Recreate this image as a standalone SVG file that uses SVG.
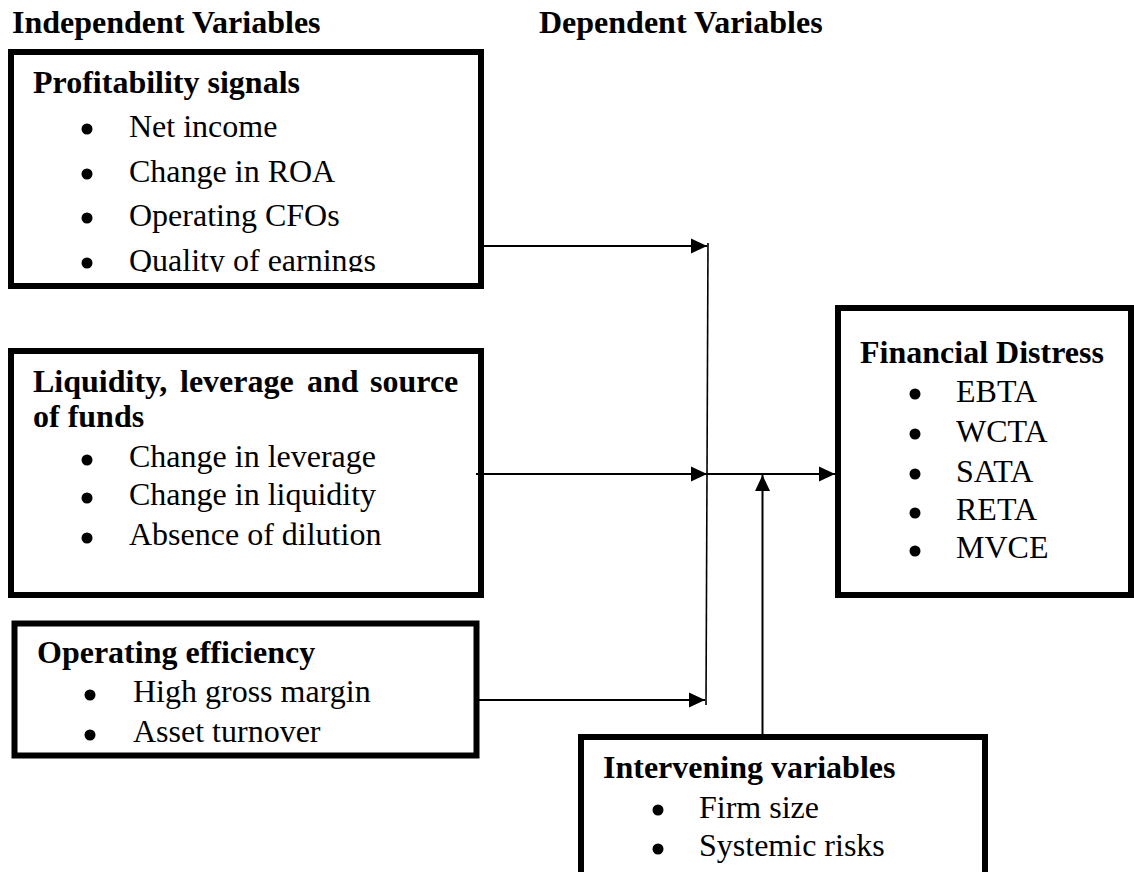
<svg xmlns="http://www.w3.org/2000/svg" width="1134" height="872" viewBox="0 0 1134 872">
<style>
text{font-family:"Liberation Serif","Times New Roman",serif;font-size:32px;fill:#000}
.b{font-weight:bold}
.box{fill:#fff;stroke:#000;stroke-width:6}
.ln{stroke:#000;stroke-width:2;fill:none}
.dot{fill:#000}
</style>
<defs>
<marker id="ah" markerUnits="userSpaceOnUse" markerWidth="16" markerHeight="16" viewBox="0 0 16 16" refX="16" refY="8" orient="auto">
<path d="M0,0.5 L16,8 L0,15.5 Z" fill="#000"/>
</marker>
<clipPath id="c1"><rect x="0" y="0" width="1134" height="272"/></clipPath>
</defs>
<rect width="1134" height="872" fill="#fff"/>
<g id="headers">
<text class="b" x="12" y="33">Independent Variables</text>
<text class="b" x="539" y="33">Dependent Variables</text>
</g>
<g id="profitability">
<rect class="box" x="11" y="52" width="470" height="234"/>
<text class="b" x="33" y="93">Profitability signals</text>
<circle class="dot" cx="87" cy="129" r="5.5"/><text x="129" y="137">Net income</text>
<circle class="dot" cx="87" cy="174" r="5.5"/><text x="129" y="182">Change in ROA</text>
<circle class="dot" cx="87" cy="218" r="5.5"/><text x="129" y="226">Operating CFOs</text>
<g clip-path="url(#c1)"><circle class="dot" cx="87" cy="263" r="5.5"/><text x="129" y="271">Quality of earnings</text></g>
</g>
<g id="liquidity">
<rect class="box" x="11" y="351" width="470" height="244"/>
<text class="b" x="33" y="392">Liquidity,</text>
<text class="b" x="180" y="392">leverage</text>
<text class="b" x="307" y="392">and</text>
<text class="b" x="370" y="392">source</text>
<text class="b" x="33" y="427">of funds</text>
<circle class="dot" cx="87" cy="460" r="5.5"/><text x="129" y="467">Change in leverage</text>
<circle class="dot" cx="87" cy="498" r="5.5"/><text x="129" y="505">Change in liquidity</text>
<circle class="dot" cx="87" cy="538" r="5.5"/><text x="129" y="545">Absence of dilution</text>
</g>
<g id="operating">
<rect class="box" x="14.5" y="623.5" width="462" height="132"/>
<text class="b" x="37" y="663">Operating efficiency</text>
<circle class="dot" cx="90" cy="695" r="5.5"/><text x="133" y="702">High gross margin</text>
<circle class="dot" cx="90" cy="735" r="5.5"/><text x="133" y="742">Asset turnover</text>
</g>
<g id="distress">
<rect class="box" x="838" y="308" width="293" height="287"/>
<text class="b" x="860" y="363">Financial Distress</text>
<circle class="dot" cx="915" cy="394" r="5.5"/><text x="956" y="402">EBTA</text>
<circle class="dot" cx="915" cy="434" r="5.5"/><text x="956" y="442">WCTA</text>
<circle class="dot" cx="915" cy="474" r="5.5"/><text x="956" y="482">SATA</text>
<circle class="dot" cx="915" cy="513" r="5.5"/><text x="956" y="520">RETA</text>
<circle class="dot" cx="915" cy="551" r="5.5"/><text x="956" y="558">MVCE</text>
</g>
<g id="intervening">
<rect class="box" x="581" y="737" width="404" height="150"/>
<text class="b" x="603" y="778">Intervening variables</text>
<circle class="dot" cx="658" cy="810" r="5.5"/><text x="699" y="818">Firm size</text>
<circle class="dot" cx="658" cy="849" r="5.5"/><text x="699" y="856">Systemic risks</text>
</g>
<g id="connectors">
<line class="ln" x1="708" y1="243" x2="706" y2="705" style="stroke-width:1.6"/>
<line class="ln" x1="484" y1="246" x2="707" y2="246" marker-end="url(#ah)"/>
<line class="ln" x1="476" y1="474" x2="707" y2="474" marker-end="url(#ah)"/>
<line class="ln" x1="707" y1="474" x2="835" y2="474" marker-end="url(#ah)"/>
<line class="ln" x1="479" y1="700" x2="705" y2="700" marker-end="url(#ah)"/>
<line class="ln" x1="762.5" y1="734" x2="762.5" y2="475" marker-end="url(#ah)"/>
</g>
</svg>
